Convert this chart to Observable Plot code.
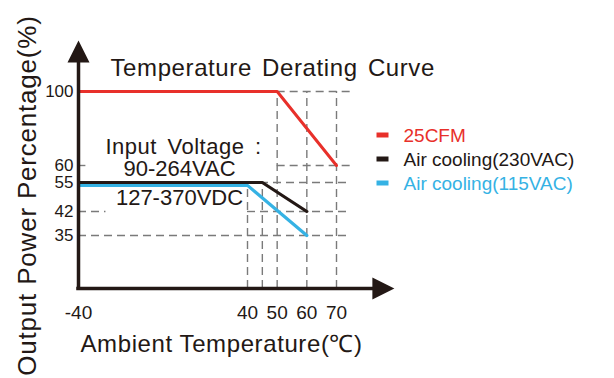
<!DOCTYPE html>
<html><head><meta charset="utf-8">
<script src="https://cdn.jsdelivr.net/npm/d3@7"></script>
<script src="https://cdn.jsdelivr.net/npm/@observablehq/plot@0.6"></script>
<style>body{margin:0;background:#fff} svg{display:block}</style>
</head><body><div id="chart"></div>
<script>
// ---- data ----
const xTicks = [-40, 40, 50, 60, 70];
const yTicks = [35, 42, 55, 60, 100];
const curve25CFM = [{t: -40, p: 100}, {t: 50, p: 100}, {t: 70, p: 60}];
const curve230 = [{t: -40, p: 55}, {t: 45, p: 55}, {t: 60, p: 42}];
const curve115 = [{t: -40, p: 53.7}, {t: 40, p: 53.7}, {t: 60, p: 35}];
const seriesNames = ["25CFM", "Air cooling(230VAC)", "Air cooling(115VAC)"];
const seriesColors = ["#e8302a", "#231815", "#35b2e4"];
const hGrid = [
  {p: 100, t1: 50, t2: 75},
  {p: 60, t1: -40, t2: -36.5}, {p: 60, t1: 50, t2: 75},
  {p: 55, t1: -40, t2: 75},
  {p: 42, t1: -40, t2: -27}, {p: 42, t1: 40, t2: 75},
  {p: 35, t1: -40, t2: 75}
];
const vGrid = [{t: 40, p2: 55}, {t: 45, p2: 55}, {t: 50, p2: 100}, {t: 60, p2: 100}, {t: 70, p2: 100}];
const titleText = "Temperature Derating Curve";
const xLabel = "Ambient Temperature(\u2103)";
const yLabel = "Output Power Percentage(%)";
const noteLines = ["Input Voltage :", "90-264VAC", "127-370VDC"];
const axisEnds = {xLine: 82, xTip: 89.5, yLine: 115.7, yTip: 127.6};

// ---- symbols ----
const upArrow = {draw(ctx) { ctx.moveTo(0, 0); ctx.lineTo(11, 22); ctx.lineTo(-11, 22); ctx.closePath(); }};
const rightArrow = {draw(ctx) { ctx.moveTo(0, 0); ctx.lineTo(-22, -11); ctx.lineTo(-22, 11); ctx.closePath(); }};
const dash = {draw(ctx) { ctx.rect(-6, -2.5, 12, 5); }};

const ink = "#231815";
const font = "'Liberation Sans', Arial, sans-serif";
const fixed = {frameAnchor: "top-left", lineAnchor: "middle", text: d => d};

const legendMarks = seriesNames.flatMap((name, i) => [
  Plot.dot([name], {frameAnchor: "top-left", dx: 382, dy: 134.5 + 24 * i, symbol: dash, fill: seriesColors[i], stroke: "none"}),
  Plot.text([name], {...fixed, dx: 403, dy: 135.5 + 24 * i, textAnchor: "start", fill: seriesColors[i], fontSize: 19})
]);

const noteMarks = [
  Plot.text([noteLines[0]], {...fixed, dx: 183, dy: 146, textAnchor: "middle", fontSize: 22, fill: ink}),
  Plot.text([noteLines[1]], {...fixed, dx: 179, dy: 168, textAnchor: "middle", fontSize: 22, fill: ink}),
  Plot.text([noteLines[2]], {...fixed, dx: 179, dy: 197, textAnchor: "middle", fontSize: 22, fill: ink})
];

const chart = Plot.plot({
  width: 614,
  height: 378,
  margin: 0,
  x: {type: "linear", domain: [-40, 40, 70], range: [78, 247, 336], axis: null},
  y: {type: "linear", domain: [0, 35, 42, 55, 60, 100], range: [288, 235, 211, 182, 165, 91], axis: null},
  style: {fontFamily: font, background: "#fff", overflow: "visible"},
  marks: [
    Plot.ruleY(hGrid, {y: "p", x1: "t1", x2: "t2", stroke: "#7a7a7a", strokeWidth: 1.4, strokeDasharray: "8,5"}),
    Plot.ruleX(vGrid, {x: "t", y1: () => 0, y2: "p2", stroke: "#7a7a7a", strokeWidth: 1.4, strokeDasharray: "8,5"}),
    Plot.line(curve115, {x: "t", y: "p", stroke: seriesColors[2], strokeWidth: 3.2, strokeLinejoin: "miter"}),
    Plot.line(curve230, {x: "t", y: "p", stroke: seriesColors[1], strokeWidth: 3.2, strokeLinejoin: "miter"}),
    Plot.line(curve25CFM, {x: "t", y: "p", stroke: seriesColors[0], strokeWidth: 3, strokeLinejoin: "miter"}),
    // axes
    Plot.ruleX([-40], {x: d => d, y1: () => 0, y2: () => axisEnds.yLine, stroke: ink, strokeWidth: 3.5, strokeLinecap: "square"}),
    Plot.ruleY([0], {y: d => d, x1: () => -40, x2: () => axisEnds.xLine, stroke: ink, strokeWidth: 3.5, strokeLinecap: "square"}),
    Plot.dot([-40], {x: d => d, y: () => axisEnds.yTip, symbol: upArrow, fill: ink, stroke: "none"}),
    Plot.dot([0], {x: () => axisEnds.xTip, y: d => d, symbol: rightArrow, fill: ink, stroke: "none"}),
    // tick labels
    Plot.text(yTicks, {x: () => -40, y: d => d, text: d => String(d), dx: -5, textAnchor: "end", fontSize: 17, fill: ink}),
    Plot.text(xTicks, {x: d => d, y: () => 0, text: d => String(d), dy: 24, fontSize: 19, fill: ink}),
    // titles
    Plot.text([titleText], {...fixed, dx: 110, dy: 68, textAnchor: "start", fontSize: 24, fill: ink}),
    Plot.text([xLabel], {...fixed, dx: 80, dy: 344, textAnchor: "start", fontSize: 24, fill: ink}),
    Plot.text([yLabel], {...fixed, dx: 27, dy: 195, textAnchor: "middle", rotate: -90, fontSize: 26, fill: ink}),
    ...noteMarks,
    ...legendMarks
  ]
});
const texts = d3.select(chart).selectAll("text");
const byContent = s => texts.filter(function () { return this.textContent === s; });
byContent(titleText).style("letter-spacing", "0.6px").style("word-spacing", "3px");
byContent(xLabel).style("letter-spacing", "0.6px");
byContent(yLabel).style("letter-spacing", "0.8px");
byContent(noteLines[0]).style("word-spacing", "4px").style("letter-spacing", "0.5px");
document.getElementById("chart").appendChild(chart);
</script>
</body></html>
